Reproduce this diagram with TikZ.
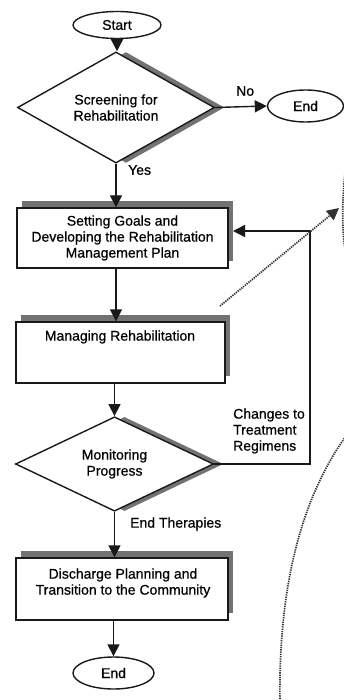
\documentclass[tikz,border=0pt]{standalone}
\usepackage{fontspec}
\setmainfont[FakeBold=0.6]{Liberation Sans}
\usetikzlibrary{shapes.geometric,arrows.meta,shadows,calc}
\begin{document}
\begin{tikzpicture}[x=1pt,y=-1pt,
  font=\fontsize{14}{16}\selectfont,
  ln/.style={draw=black!90, line width=1.4pt},
  term/.style={ellipse, ln, fill=white, inner sep=0pt},
  decide/.style={diamond, ln, fill=white, inner sep=0pt, align=center,
    drop shadow={shadow xshift=10pt, shadow yshift=0pt, fill=black!55, opacity=1}},
  proc/.style={rectangle, ln, fill=white, inner sep=0pt, align=center,
    drop shadow={shadow xshift=5pt, shadow yshift=7pt, fill=black!55, opacity=1}},
  arr/.style={draw=black!90, line width=1.4pt, -{Triangle[width=12pt,length=12pt]}},
  txt/.style={inner sep=0pt, align=center},
  lbl/.style={inner sep=0pt, anchor=west, align=left},
  dots/.style={draw=black!80, line width=1.7pt, dash pattern=on 1.3pt off 1pt}
]
\fill[white] (0,0) rectangle (344,700);
\useasboundingbox (0,0) rectangle (344,700);

% nodes
\node[term, minimum width=88pt, minimum height=27pt] (start) at (117,25) {Start};
\node[decide, minimum width=197pt, minimum height=81pt] (d1) at (116,107.5) {Screening for\\Rehabilitation};
\node[term, minimum width=76pt, minimum height=32pt] (end1) at (305.5,106) {End};
\node[proc, minimum width=211pt, minimum height=60pt] (b1) at (122.5,238) {Setting Goals and\\Developing the Rehabilitation\\Management Plan};
\node[proc, minimum width=209pt, minimum height=61pt] (b2) at (120.5,352.5) {};
\node[txt] (b2t) at (120,337) {Managing Rehabilitation};
\node[decide, minimum width=198pt, minimum height=82pt] (d2) at (114.5,464) {Monitoring\\Progress};
\node[proc, minimum width=212pt, minimum height=62pt] (b3) at (122,589) {};
\node[txt] (b3t) at (123,583) {Discharge Planning and\\Transition to the Community};
\node[term, minimum width=81pt, minimum height=32pt] (end2) at (113.5,673) {End};

% labels
\node[lbl] (no) at (236,91) {No};
\node[lbl] (yes) at (128,170) {Yes};
\node[lbl] (chg) at (233,431) {Changes to\\Treatment\\Regimens};
\node[lbl] (endth) at (130,524) {End Therapies};

% connectors
\draw[arr] (start.south) -- (start.south |- d1.north);
\draw[arr] (d1.east) -- (end1.west);
\draw[arr] (d1.south) -- (d1.south |- b1.north);
\draw[arr] (d1.south |- b1.south) -- (d1.south |- b2.north);
\draw[arr] (d2.north |- b2.south) -- (d2.north);
\draw[arr] (d2.south) -- (d2.south |- b3.north);
\draw[arr] (end2.north |- b3.south) -- (end2.north);

\coordinate (fbin) at (233,231);
\coordinate (fbr) at (310,231);
\draw[arr] (d2.east) -- (d2.east -| fbr) -- (fbr) -- (fbin);

% dotted arrow
\coordinate (dotA) at (220,306);
\coordinate (dotB) at (339,208);
\draw[dots, -{Triangle[width=12pt,length=12pt]}] (dotA) -- (dotB);

% large dotted curve at the right edge
\begin{scope}
\clip (0,0) rectangle (344,700);
\draw[dots] (350,140) .. controls (342,180) and (340,230) .. (347,260)
  .. controls (360,330) and (360,400) .. (346,436)
  .. controls (300,500) and (278,590) .. (280,705);
\end{scope}
\end{tikzpicture}
\end{document}
